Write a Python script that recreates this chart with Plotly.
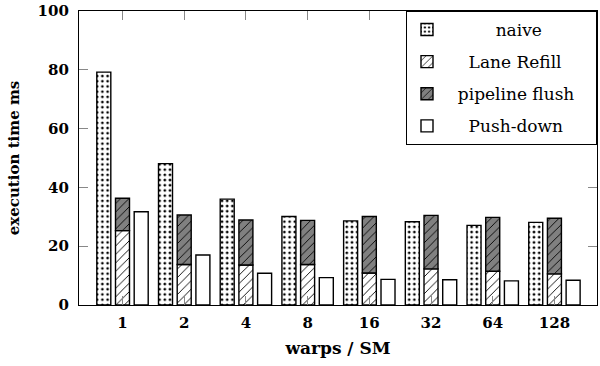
import plotly.graph_objects as go

categories = ["1", "2", "4", "8", "16", "32", "64", "128"]
naive = [79.2, 48.1, 36.0, 30.1, 28.6, 28.3, 27.1, 28.1]
lane_refill = [25.3, 13.8, 13.6, 13.8, 10.9, 12.3, 11.5, 10.6]
pipeline_total = [36.3, 30.6, 28.9, 28.8, 30.1, 30.5, 29.8, 29.5]
pipeline_flush = [round(t - l, 2) for t, l in zip(pipeline_total, lane_refill)]
push_down = [31.7, 17.0, 10.8, 9.3, 8.7, 8.6, 8.2, 8.4]

xs = list(range(len(categories)))
W = 0.227
STEP = 0.303
line = dict(color="black", width=1.4)
serif = "DejaVu Serif"
NB = "\u00a0"

def pad(s, lead, trail=0):
    return NB * lead + s + NB * trail

fig = go.Figure()
fig.add_trace(go.Bar(
    x=xs, y=naive, name=pad("naive", 9), width=W, offset=-STEP - W / 2,
    legendgroup="a",
    marker=dict(color="white", line=line,
                pattern=dict(shape=".", fgcolor="black", bgcolor="white",
                             size=5.2, solidity=0.22, fillmode="replace")),
))
fig.add_trace(go.Bar(
    x=xs, y=lane_refill, name=pad("Lane Refill", 4), width=W, offset=-W / 2,
    legendgroup="b",
    marker=dict(color="white", line=line,
                pattern=dict(shape="/", fgcolor="black", bgcolor="white",
                             size=6, solidity=0.15, fillmode="replace")),
))
fig.add_trace(go.Bar(
    x=xs, y=pipeline_flush, base=lane_refill, name=pad("pipeline flush", 2, 3),
    width=W, offset=-W / 2, legendgroup="c",
    marker=dict(color="#808080", line=line,
                pattern=dict(shape="/", fgcolor="black", bgcolor="#808080",
                             size=6, solidity=0.15, fillmode="replace")),
))
fig.add_trace(go.Bar(
    x=xs, y=push_down, name=pad("Push-down", 4), width=W, offset=STEP - W / 2,
    legendgroup="d",
    marker=dict(color="white", line=line),
))

fig.update_layout(
    width=600, height=366,
    margin=dict(l=79, r=3, t=11, b=61),
    barmode="overlay",
    plot_bgcolor="white", paper_bgcolor="white",
    font=dict(family=serif, size=15, color="black"),
    showlegend=True,
    legend=dict(
        x=1, y=1, xanchor="right", yanchor="top",
        bgcolor="white", bordercolor="black", borderwidth=1,
        font=dict(family=serif, size=17, color="black"),
        traceorder="grouped", tracegroupgap=7,
    ),
    xaxis=dict(
        range=[-0.705, 7.69],
        tickmode="array", tickvals=xs, ticktext=["<b>%s</b>" % c for c in categories],
        ticks="inside", ticklen=9, tickcolor="#888", tickwidth=1,
        showline=True, linecolor="black", linewidth=1.2, mirror="ticks",
        showgrid=False, zeroline=False,
        ticklabelstandoff=4,
        title=dict(text="<b>warps / SM</b>", standoff=11, font=dict(size=17)),
    ),
    yaxis=dict(
        range=[0, 100],
        tickvals=[0, 20, 40, 60, 80, 100],
        ticktext=["<b>%d</b>" % v for v in [0, 20, 40, 60, 80, 100]],
        ticks="inside", ticklen=9, tickcolor="#888", tickwidth=1,
        showline=True, linecolor="black", linewidth=1.2, mirror="ticks",
        showgrid=False, zeroline=False,
        ticklabelstandoff=6,
        title=dict(text="<b>execution time ms</b>", standoff=14, font=dict(size=15)),
    ),
)

fig.write_html("out.html")
